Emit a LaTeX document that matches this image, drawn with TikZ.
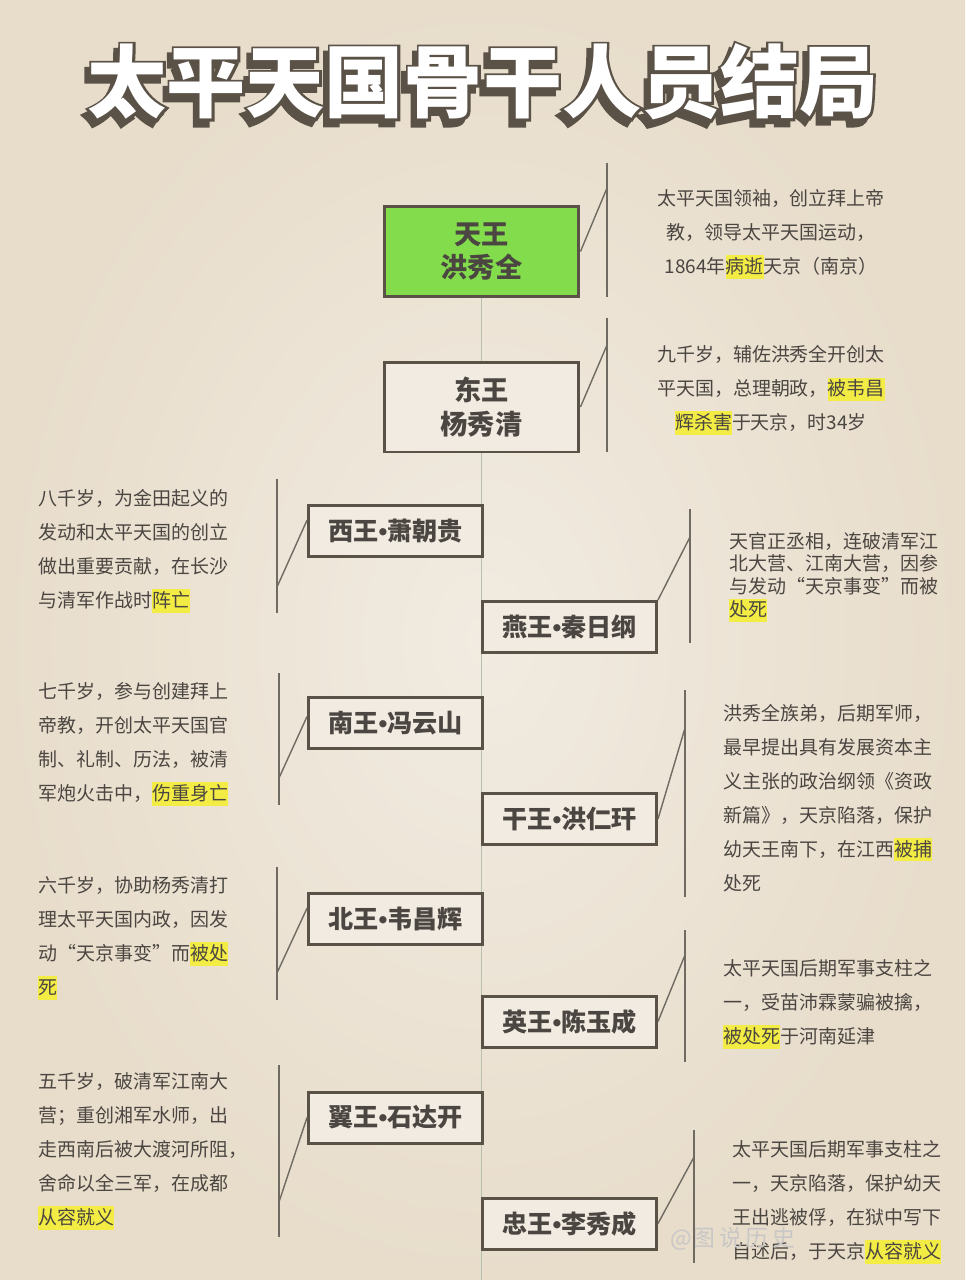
\documentclass[tikz,border=0pt]{standalone}
\usepackage{fontspec}
\setmainfont{Noto Sans CJK SC}
\newfontfamily\latinfont{Liberation Sans}
\newfontfamily\titlethick[FakeBold=6]{Noto Sans CJK SC}
\usepackage{xcolor}
\definecolor{CPaper}{HTML}{F1EBE1}
\definecolor{CPaperDark}{HTML}{E8DDCB}
\definecolor{CInk}{HTML}{4B4641}
\definecolor{CFrame}{HTML}{5A5147}
\definecolor{CGreen}{HTML}{82DC4C}
\definecolor{CYellow}{HTML}{F3EC45}
\definecolor{CRule}{HTML}{6F6B62}
\definecolor{CTrunk}{HTML}{B3C1AE}
\usepackage{tikz}
\usetikzlibrary{calc,backgrounds}
\newcommand{\hlt}[1]{{\setlength{\fboxsep}{0pt}\colorbox{CYellow}{\rule[-0.28em]{0pt}{1.22em}#1}}}
\newcommand{\wdot}{{\latinfont\bfseries\char"2022}}
\tikzstyle{titleText}=[font=\fontsize{45}{50}\selectfont\bfseries, inner sep=0pt]
\tikzstyle{titleEdge}=[font=\fontsize{45}{50}\selectfont\titlethick\bfseries, inner sep=0pt, text=CFrame]
\tikzstyle{kingNode}=[rectangle, draw=CFrame, line width=1.7pt, fill=CPaper, minimum width=3.9cm,
  minimum height=1.8cm, align=center, font=\fontsize{15.5}{19}\selectfont\bfseries, text=CInk]
\tikzstyle{leadNode}=[kingNode, fill=CGreen]
\tikzstyle{wangNode}=[rectangle, draw=CFrame, line width=1.7pt, fill=CPaper, minimum width=3.48cm,
  minimum height=1.02cm, font=\fontsize{14.3}{17}\selectfont\bfseries, text=CInk]
\tikzstyle{noteNode}=[anchor=west, align=left, font=\fontsize{10.8}{19.3}\selectfont, text=CInk, inner sep=0pt]
\tikzstyle{midNote}=[noteNode, anchor=center, align=center]
\tikzstyle{tightNote}=[noteNode, font=\fontsize{10.8}{13}\selectfont]
\tikzstyle{bracketLine}=[draw=CRule, line width=0.8pt]
\tikzstyle{trunkLine}=[draw=CTrunk, line width=0.7pt]

\begin{document}
\begin{tikzpicture}[x=0.02cm, y=-0.02cm]
\useasboundingbox (0,0) rectangle (965,1280);

% title: shadow, outline, face
\node[titleEdge] (titleShadow) at (478,88) {太平天国骨干人员结局};
\node[titleEdge] (titleEdge) at (483,82) {太平天国骨干人员结局};
\node[titleText, text=white] (title) at (483,82) {太平天国骨干人员结局};

% boxes
\node[leadNode] (tw) at (481.5,251.5) {天王\\洪秀全};
\node[kingNode] (dw) at (481.5,407) {东王\\杨秀清};
\node[wangNode] (xw) at (395.5,531) {西王\wdot 萧朝贵};
\node[wangNode] (yw) at (569.5,627) {燕王\wdot 秦日纲};
\node[wangNode] (nw) at (395.5,723) {南王\wdot 冯云山};
\node[wangNode] (gw) at (569.5,819) {干王\wdot 洪仁玕};
\node[wangNode] (bw) at (395.5,919) {北王\wdot 韦昌辉};
\node[wangNode] (yiw) at (569.5,1021.5) {英王\wdot 陈玉成};
\node[wangNode] (sw) at (395.5,1117.5) {翼王\wdot 石达开};
\node[wangNode] (zw) at (569.5,1223.5) {忠王\wdot 李秀成};

% notes
\node[midNote] (twNote) at (771,234) {太平天国领袖，创立拜上帝\\教，领导太平天国运动，\\1864年\hlt{病逝}天京（南京）};
\node[midNote] (dwNote) at (771,390) {九千岁，辅佐洪秀全开创太\\平天国，总理朝政，\hlt{被韦昌}\\\hlt{辉杀害}于天京，时34岁};
\node[noteNode] (xwNote) at (38,551) {八千岁，为金田起义的\\发动和太平天国的创立\\做出重要贡献，在长沙\\与清军作战时\hlt{阵亡}};
\node[tightNote] (ywNote) at (729,577) {天官正丞相，连破清军江\\北大营、江南大营，因参\\与发动“天京事变”而被\\\hlt{处死}};
\node[noteNode] (nwNote) at (38,744) {七千岁，参与创建拜上\\帝教，开创太平天国官\\制、礼制、历法，被清\\军炮火击中，\hlt{伤重身亡}};
\node[noteNode] (gwNote) at (723,798) {洪秀全族弟，后期军师，\\最早提出具有发展资本主\\义主张的政治纲领《资政\\新篇》，天京陷落，保护\\幼天王南下，在江西\hlt{被捕}\\处死};
\node[noteNode] (bwNote) at (38,938) {六千岁，协助杨秀清打\\理太平天国内政，因发\\动“天京事变”而\hlt{被处}\\\hlt{死}};
\node[noteNode] (yiwNote) at (723,1004) {太平天国后期军事支柱之\\一，受苗沛霖蒙骗被擒，\\\hlt{被处死}于河南延津};
\node[noteNode] (swNote) at (38,1151) {五千岁，破清军江南大\\营；重创湘军水师，出\\走西南后被大渡河所阻，\\舍命以全三军，在成都\\\hlt{从容就义}};
\node[noteNode] (zwNote) at (732,1202) {太平天国后期军事支柱之\\一，天京陷落，保护幼天\\王出逃被俘，在狱中写下\\自述后，于天京\hlt{从容就义}};
\node[text=CInk!30, font=\fontsize{13}{15}\selectfont] (wmark) at (733,1239) {@图\,说\,历\,史};

% bracket coordinates
\coordinate (twTop) at (607,163);  \coordinate (twBot) at (607,297);  \coordinate (twTip) at (607,188);
\coordinate (dwTop) at (607,318);  \coordinate (dwBot) at (607,452);  \coordinate (dwTip) at (607,345);
\coordinate (xwTop) at (277,479);  \coordinate (xwBot) at (277,613);  \coordinate (xwTip) at (277,587);
\coordinate (ywTop) at (690,509);  \coordinate (ywBot) at (690,643);  \coordinate (ywTip) at (690,537);
\coordinate (nwTop) at (279,673);  \coordinate (nwBot) at (279,805);  \coordinate (nwTip) at (279,778);
\coordinate (gwTop) at (685,690);  \coordinate (gwBot) at (685,897);  \coordinate (gwTip) at (685,728);
\coordinate (bwTop) at (277,867);  \coordinate (bwBot) at (277,1000); \coordinate (bwTip) at (277,973);
\coordinate (yiwTop) at (685,930); \coordinate (yiwBot) at (685,1062); \coordinate (yiwTip) at (685,955);
\coordinate (swTop) at (279,1065); \coordinate (swBot) at (279,1237); \coordinate (swTip) at (279,1202);
\coordinate (zwTop) at (694,1130); \coordinate (zwBot) at (694,1263); \coordinate (zwTip) at (694,1157);
\coordinate (trunkEnd) at (481.5,1280);

\foreach \n in {tw,dw,xw,yw,nw,gw,bw,yiw,sw,zw}
  \draw[bracketLine] (\n Top) -- (\n Bot);
\draw[bracketLine] (tw.east) -- (twTip);
\draw[bracketLine] (dw.east) -- (dwTip);
\draw[bracketLine] ($(xw.north west)!0.3!(xw.south west)$) -- (xwTip);
\draw[bracketLine] (yw.north east) -- (ywTip);
\draw[bracketLine] ($(nw.north west)!0.38!(nw.south west)$) -- (nwTip);
\draw[bracketLine] (gw.east) -- (gwTip);
\draw[bracketLine] ($(bw.north west)!0.3!(bw.south west)$) -- (bwTip);
\draw[bracketLine] (yiw.east) -- (yiwTip);
\draw[bracketLine] (sw.west) -- (swTip);
\draw[bracketLine] (zw.east) -- (zwTip);

\begin{pgfonlayer}{background}
\shade[inner color=CPaper, outer color=CPaperDark] (0,0) rectangle (965,1280);
\draw[trunkLine] (tw.south) -- (trunkEnd);
\end{pgfonlayer}
\end{tikzpicture}
\end{document}
